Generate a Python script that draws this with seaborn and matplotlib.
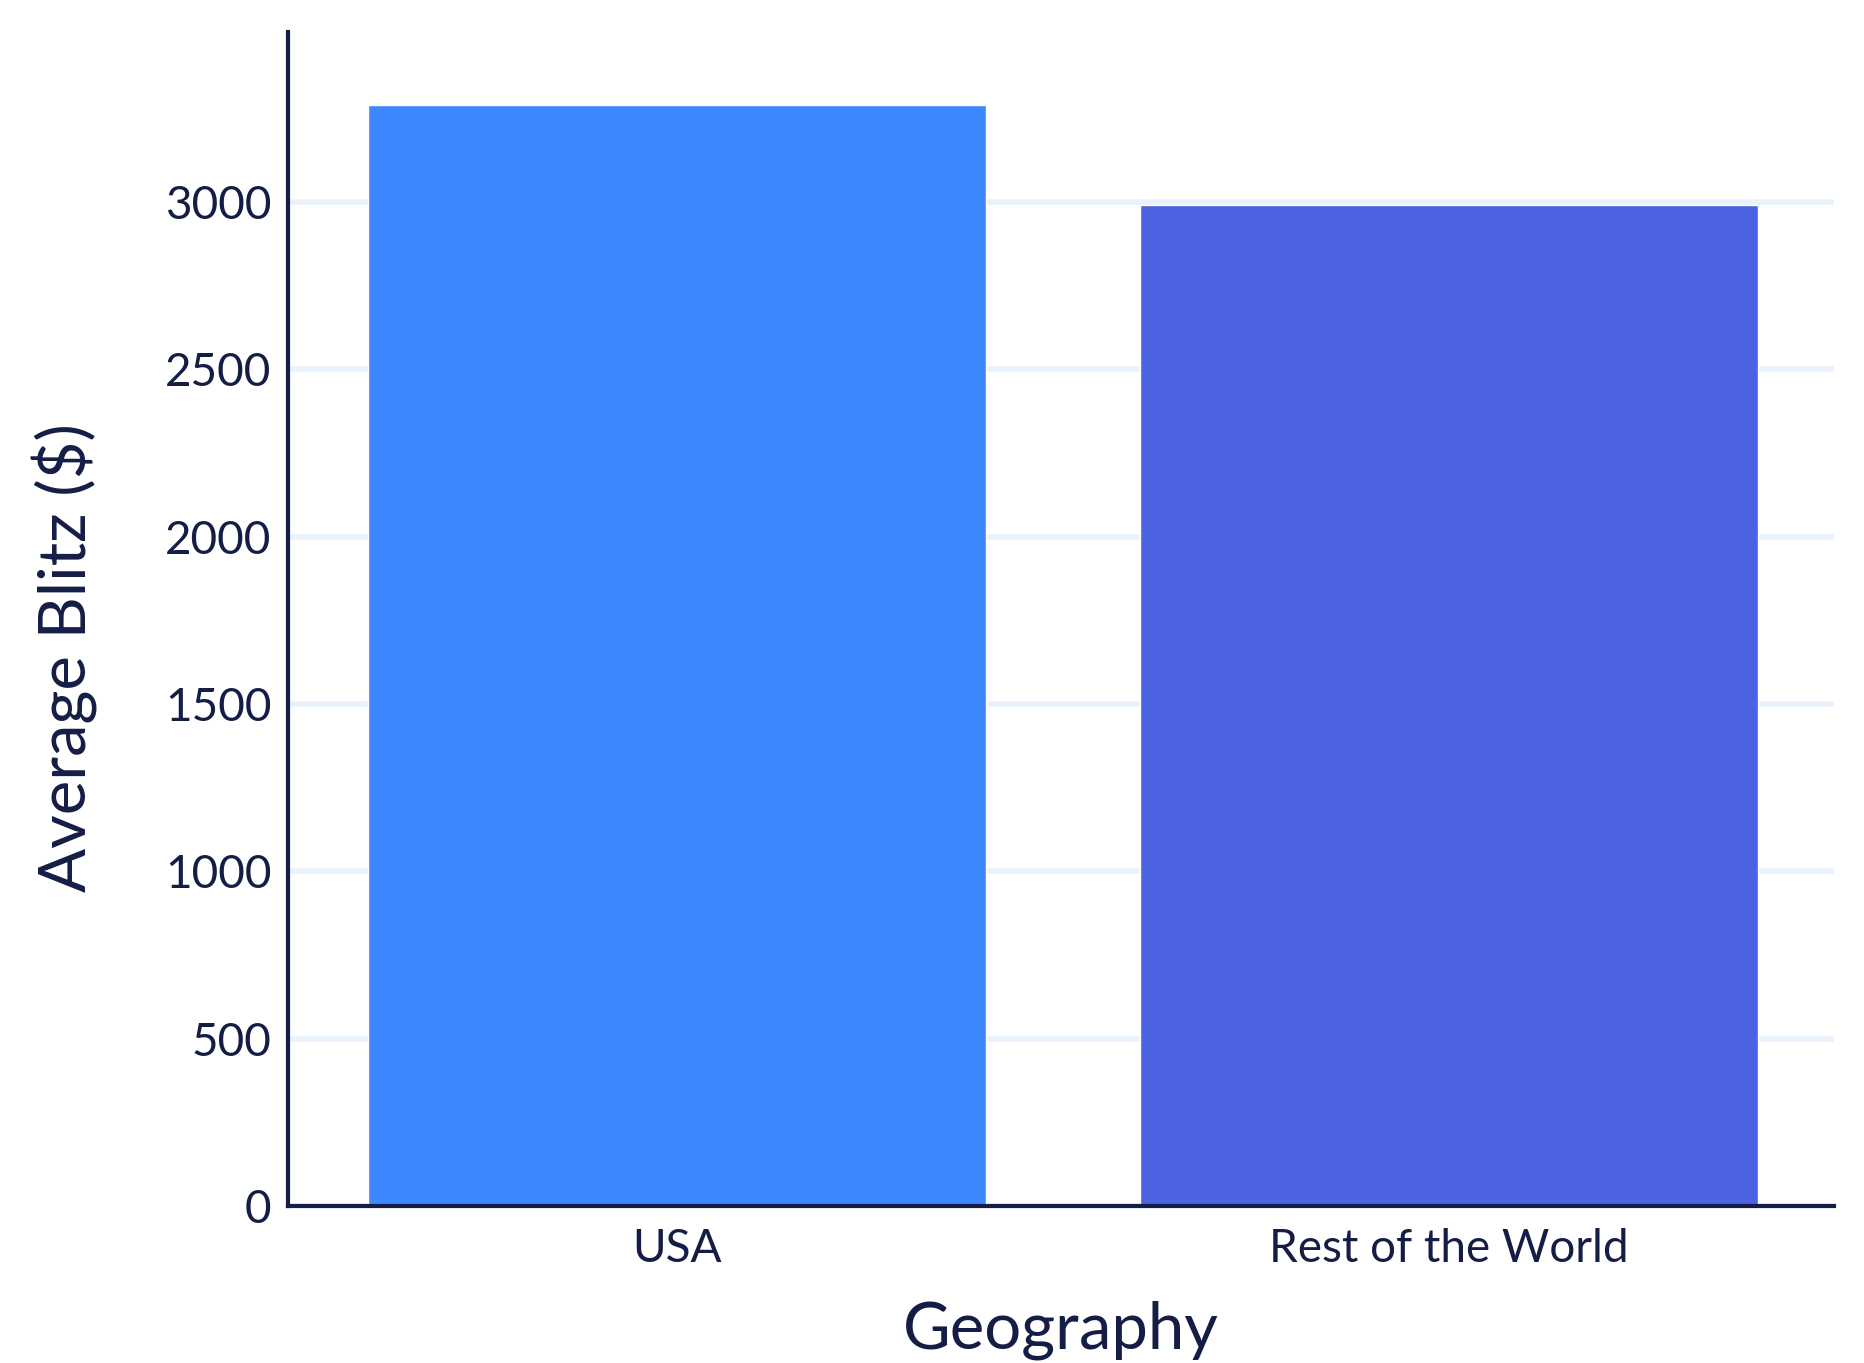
import matplotlib
matplotlib.use("Agg")
import matplotlib.pyplot as plt
import seaborn as sns
import pandas as pd

# Average blitz rating by geography
geography = ["USA", "Rest of the World"]
avg_blitz = [3290, 2990]
bar_colors = ["#3D88FF", "#4B63E0"]
y_ticks = [0, 500, 1000, 1500, 2000, 2500, 3000]

INK = "#141D45"
GRID = "#E8F1FC"

sns.set_theme(style="white")
plt.rcParams["font.family"] = ["Lato", "DejaVu Sans"]

df = pd.DataFrame({"Geography": geography, "Average Blitz ($)": avg_blitz})

fig = plt.figure(figsize=(18.65, 13.63), dpi=100)
ax = fig.add_axes([0.1544, 0.1152, 0.829, 0.8613])

sns.barplot(data=df, x="Geography", y="Average Blitz ($)", hue="Geography",
            palette=bar_colors, width=0.8, legend=False, ax=ax, zorder=2,
            saturation=1)

ax.set_ylim(0, 3508)
ax.set_xlim(-0.503, 1.498)
ax.set_yticks(y_ticks)
ax.set_yticklabels([str(v) for v in y_ticks])
ax.yaxis.grid(True, color=GRID, linewidth=4, zorder=0)
ax.set_axisbelow(True)

for side in ("top", "right"):
    ax.spines[side].set_visible(False)
for side in ("left", "bottom"):
    ax.spines[side].set_color(INK)
    ax.spines[side].set_linewidth(3)

ax.tick_params(axis="both", length=0, labelsize=33, colors=INK)
ax.tick_params(axis="y", pad=12)
ax.tick_params(axis="x", pad=16)

ax.set_xlabel("Geography", fontsize=47, color=INK)
ax.set_ylabel("Average Blitz ($)", fontsize=47, color=INK)
ax.xaxis.label.set_va("center")
ax.yaxis.label.set_va("center")
ax.xaxis.set_label_coords(0.5, -0.106)
ax.yaxis.set_label_coords(-0.144, 0.467)

fig.savefig("out.png", dpi=100, facecolor="white")
